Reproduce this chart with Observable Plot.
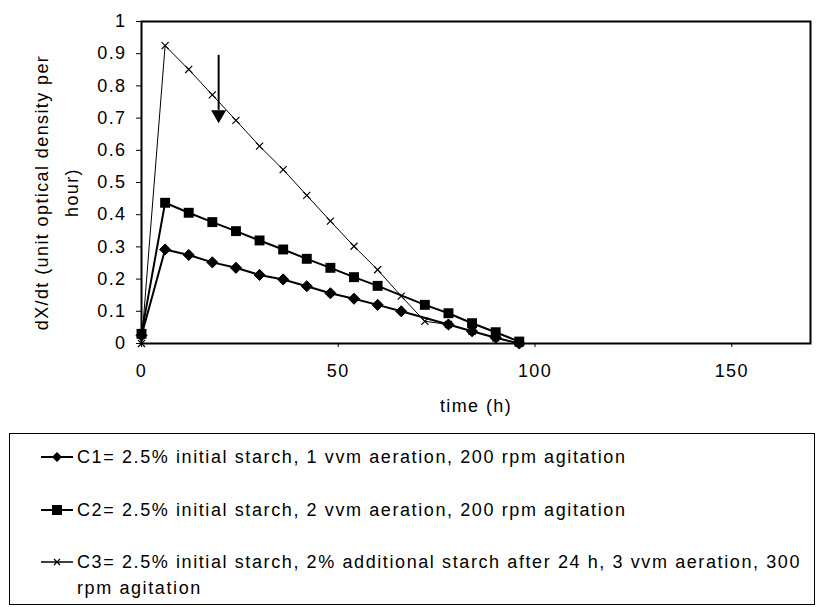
<!DOCTYPE html>
<html>
<head>
<meta charset="utf-8">
<script src="https://cdn.jsdelivr.net/npm/d3@7"></script>
<script src="https://cdn.jsdelivr.net/npm/@observablehq/plot@0.6"></script>
<style>
  html, body { margin: 0; padding: 0; background: #fff; }
  #wrap { position: relative; width: 817px; height: 607px; font-family: "Liberation Sans", Arial, sans-serif; }
  #chart svg text { letter-spacing: 1.4px; }
  #legend { position: absolute; left: 9px; top: 433px; width: 806px; height: 172px; border: 1.5px solid #000; box-sizing: border-box; font-size: 18px; letter-spacing: 1.6px; color: #000; }
  .item { position: absolute; left: 30px; display: flex; align-items: flex-start; }
  .item svg { flex: none; margin-right: 3px; }
  .item span { line-height: 26px; width: 740px; }
</style>
</head>
<body>
<div id="wrap">
  <div id="chart"></div>
  <div id="legend"></div>
</div>
<script>
// ---- data ----
const tC1 = [0, 6, 12, 18, 24, 30, 36, 42, 48, 54, 60, 66, 78, 84, 90, 96];
const vC1 = [0.025, 0.292, 0.275, 0.252, 0.235, 0.213, 0.199, 0.178, 0.156, 0.139, 0.120, 0.100, 0.059, 0.038, 0.018, 0.0];
const tC2 = [0, 6, 12, 18, 24, 30, 36, 42, 48, 54, 60, 72, 78, 84, 90, 96];
const vC2 = [0.03, 0.437, 0.406, 0.377, 0.349, 0.320, 0.292, 0.263, 0.235, 0.206, 0.179, 0.120, 0.094, 0.063, 0.035, 0.006];
const tC3 = [0, 6, 12, 18, 24, 30, 36, 42, 48, 54, 60, 66, 72, 78, 84, 90, 96];
const vC3 = [0, 0.925, 0.851, 0.772, 0.693, 0.613, 0.540, 0.460, 0.380, 0.302, 0.229, 0.147, 0.069, 0.059, 0.038, 0.018, 0.0];
const seriesLabels = [
  "C1= 2.5% initial starch, 1 vvm aeration, 200 rpm agitation",
  "C2= 2.5% initial starch, 2 vvm aeration, 200 rpm agitation",
  "C3= 2.5% initial starch, 2% additional starch after 24 h, 3 vvm aeration, 300 rpm agitation"
];
const xTicks = [0, 50, 100, 150];
const yTicks = [0, 0.1, 0.2, 0.3, 0.4, 0.5, 0.6, 0.7, 0.8, 0.9, 1];
const xTitle = "time (h)";
const yTitle1 = "dX/dt (unit optical density per";
const yTitle2 = "hour)";
const arrowX = [19.6];
const arrowTop = [0.895];
const arrowTip = [0.684];

const c1 = tC1.map((t, i) => ({t, v: vC1[i]}));
const c2 = tC2.map((t, i) => ({t, v: vC2[i]}));
const c3 = tC3.map((t, i) => ({t, v: vC3[i]}));

const font = "Liberation Sans, Arial, sans-serif";

const chart = Plot.plot({
  width: 817,
  height: 432,
  marginLeft: 141,
  marginRight: 7,
  marginTop: 21,
  marginBottom: 89,
  style: {fontFamily: font, fontSize: "18px", color: "#000", background: "#fff"},
  x: {domain: [0, 170], label: null},
  y: {domain: [0, 1], label: null},
  marks: [
    Plot.axisX({ticks: xTicks, tickSize: 4, tickPadding: 17, label: null, tickFormat: d => String(d), fontSize: 18}),
    Plot.axisY({ticks: yTicks, tickSize: 5, tickPadding: 10, label: null, tickFormat: d => String(d), fontSize: 18}),
    Plot.frame({stroke: "#000", strokeWidth: 2}),
    Plot.line(c3, {x: "t", y: "v", stroke: "#000", strokeWidth: 1}),
    Plot.line(c2, {x: "t", y: "v", stroke: "#000", strokeWidth: 2}),
    Plot.line(c1, {x: "t", y: "v", stroke: "#000", strokeWidth: 2}),
    Plot.dot(c2, {x: "t", y: "v", symbol: "square", r: 5.6, fill: "#000", stroke: "none"}),
    Plot.dot(c1, {x: "t", y: "v", symbol: "diamond2", r: 5, fill: "#000", stroke: "#000", strokeWidth: 1}),
    Plot.dot(c3, {x: "t", y: "v", symbol: "times", r: 3.3, stroke: "#000", strokeWidth: 1.2}),
    // annotation arrow
    Plot.ruleX(arrowX, {x: d => d, y1: arrowTop[0], y2: arrowTip[0] + 0.04, stroke: "#000", strokeWidth: 2}),
    Plot.dot(arrowX, {x: d => d, y: arrowTip[0], dy: -8.7, symbol: "triangle", r: 5.6, rotate: 180, fill: "#000", stroke: "none"}),
    // axis titles
    Plot.text([xTitle], {frameAnchor: "bottom", dy: 68, fontSize: 18}),
    Plot.text([yTitle1], {frameAnchor: "left", textAnchor: "middle", dx: -99, dy: 10, rotate: -90, fontSize: 18}),
    Plot.text([yTitle2], {frameAnchor: "left", textAnchor: "middle", dx: -69, dy: 10, rotate: -90, fontSize: 18})
  ]
});
document.getElementById("chart").appendChild(chart);

// ---- legend ----
const legend = document.getElementById("legend");
const tops = [10, 63, 115];
const markers = [
  '<path d="M0,-5L5,0L0,5L-5,0Z" fill="#000"/>',
  '<rect x="-5" y="-5" width="10" height="10" fill="#000"/>',
  '<path d="M-3,-3L3,3M3,-3L-3,3" stroke="#000" stroke-width="1.2"/>'
];
const widths = [2, 2, 1.5];
seriesLabels.forEach((lab, i) => {
  const div = document.createElement("div");
  div.className = "item";
  div.style.top = tops[i] + "px";
  div.innerHTML = `<svg width="34" height="26"><g transform="translate(0,13)"><line x1="1" x2="33" stroke="#000" stroke-width="${widths[i]}"/><g transform="translate(17,0)">${markers[i]}</g></g></svg><span>${lab}</span>`;
  legend.appendChild(div);
});
</script>
</body>
</html>
